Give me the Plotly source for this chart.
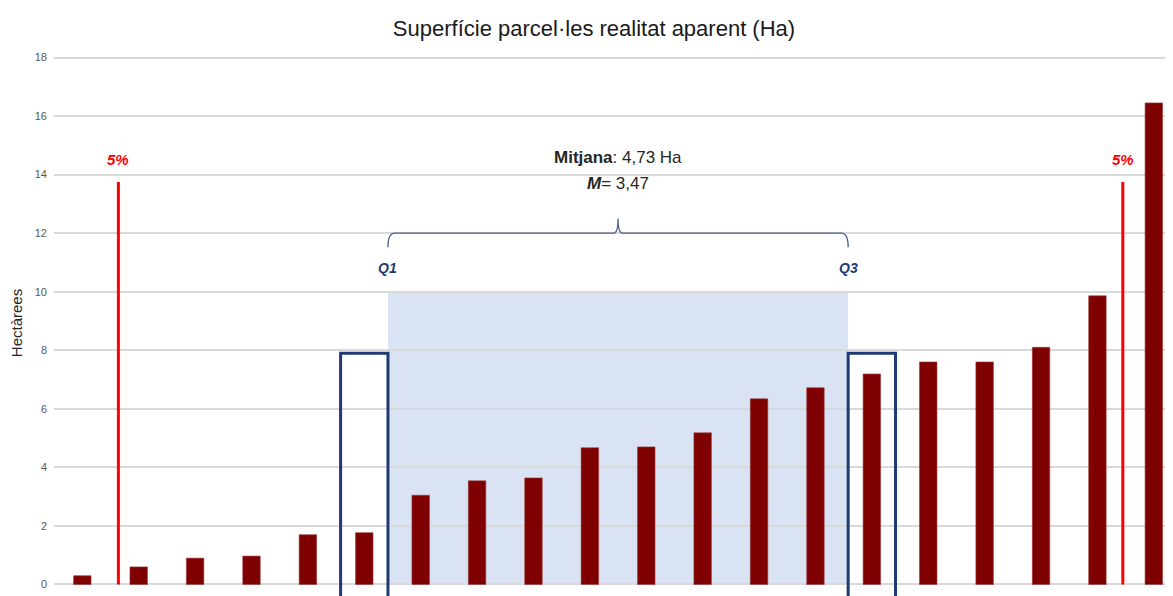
import plotly.graph_objects as go

# Parcel areas (Ha), sorted ascending
parcel_values = [0.30, 0.60, 0.90, 0.97, 1.70, 1.77, 3.05, 3.54, 3.64, 4.67,
                 4.70, 5.18, 6.34, 6.72, 7.19, 7.60, 7.60, 8.10, 9.86, 16.45]
parcel_idx = list(range(len(parcel_values)))

# 5% cut-off markers
pct5_x = [0.64, 18.45]
pct5_top = 13.75

# quartile boxes and inter-quartile band
q1_idx = 5
q3_idx = 14
box_half = 0.42
box_top = 7.9
iqr_top = 10
brace_y = 12

mean_text = "<b>Mitjana</b>: 4,73 Ha"
median_text = "<b><i>M</i></b>= 3,47"

FONT = "Liberation Sans Narrow, Arial Narrow, Liberation Sans, Arial, sans-serif"
NAVY = "#1F3A73"
RED = "#FF0000"

x_lo, x_hi = -0.502, 19.34
y_lo, y_hi = -0.393, 18.256

fig = go.Figure()

fig.add_trace(go.Bar(
    x=parcel_idx, y=parcel_values, width=0.31,
    marker=dict(color="#7F0000", line=dict(color="#9A3A3A", width=0.6)),
    showlegend=False, hoverinfo="y"
))

band_x0 = q1_idx + box_half
band_x1 = q3_idx - box_half

# light blue inter-quartile band
fig.add_shape(type="rect", xref="x", yref="y", x0=band_x0, x1=band_x1, y0=0, y1=iqr_top,
              fillcolor="#DAE3F3", line=dict(width=0), layer="below")

# quartile boxes
for q in (q1_idx, q3_idx):
    fig.add_shape(type="rect", xref="x", yref="y", x0=q - box_half, x1=q + box_half,
                  y0=y_lo - 1, y1=box_top, line=dict(color=NAVY, width=3), layer="above")

# 5% red lines + labels
for px_ in pct5_x:
    fig.add_shape(type="line", xref="x", yref="y", x0=px_, x1=px_, y0=0, y1=pct5_top,
                  line=dict(color=RED, width=3))
    fig.add_annotation(x=px_, y=14.5, text="<b><i>5%</i></b>", showarrow=False,
                       font=dict(family=FONT, size=15, color=RED))

# curly brace above the band
xm = (band_x0 + band_x1) / 2
brace = (f"M {band_x0},{brace_y - 0.48} Q {band_x0},{brace_y} {band_x0 + 0.12},{brace_y} "
         f"L {xm - 0.08},{brace_y} Q {xm},{brace_y} {xm},{brace_y + 0.5} "
         f"Q {xm},{brace_y} {xm + 0.08},{brace_y} "
         f"L {band_x1 - 0.12},{brace_y} Q {band_x1},{brace_y} {band_x1},{brace_y - 0.48}")
fig.add_shape(type="path", xref="x", yref="y", path=brace,
              line=dict(color="#4A5F8A", width=1.3))

# Q labels
for q_x, lbl in ((band_x0, "Q1"), (band_x1, "Q3")):
    fig.add_annotation(x=q_x, y=10.81, text=f"<b><i>{lbl}</i></b>", showarrow=False,
                       font=dict(family=FONT, size=14, color=NAVY))

fig.add_annotation(x=xm, y=14.57, text=mean_text, showarrow=False,
                   font=dict(family=FONT, size=17, color="#262626"))
fig.add_annotation(x=xm, y=13.71, text=median_text, showarrow=False,
                   font=dict(family=FONT, size=17, color="#262626"))

# page body has an 8px margin, so the figure is drawn 8px smaller
fig.update_layout(
    width=1165, height=588,
    margin=dict(l=46, r=0, t=42, b=0, autoexpand=False),
    paper_bgcolor="white", plot_bgcolor="white",
    title=dict(text="Superfície parcel·les realitat aparent (Ha)", x=0.503, xanchor="center",
               y=1 - 20 / 588, yanchor="middle", yref="container", automargin=False,
               font=dict(family=FONT, size=22, color="#1A1A1A")),
    font=dict(family=FONT),
    bargap=0.7,
)
fig.update_xaxes(range=[x_lo, x_hi], showticklabels=False, showgrid=False,
                 zeroline=False, showline=False, automargin=False)
fig.update_yaxes(range=[y_lo, y_hi], tickvals=list(range(0, 19, 2)), showgrid=True,
                 gridcolor="#D9D9D9", gridwidth=1.5, zeroline=False, showline=False,
                 automargin=False, ticklabelstandoff=6,
                 tickfont=dict(family=FONT, size=11, color="#595959"), ticks="",
                 title=dict(text="Hectàrees", font=dict(family=FONT, size=15, color="#262626"),
                            standoff=8))

fig.write_html("out.html")
